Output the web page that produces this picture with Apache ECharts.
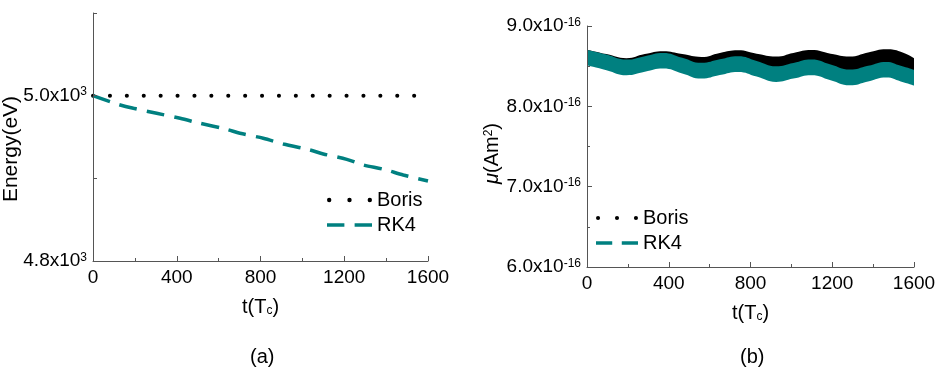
<!DOCTYPE html>
<html>
<head>
<meta charset="utf-8">
<script src="https://cdn.jsdelivr.net/npm/echarts@6/dist/echarts.min.js"></script>
<style>
  html, body { margin: 0; padding: 0; background: #fff; }
  #main { width: 936px; height: 367px; }
</style>
</head>
<body>
<div id="main"></div>
<script>
// (a) energy vs time
var borisEnergyTime = [0, 1550];
var borisEnergy = [5000, 5000];
var rk4EnergyTime = [0, 113, 193, 304, 416, 511, 638, 702, 813, 909, 1036, 1100, 1212, 1291, 1387, 1482, 1600];
var rk4Energy = [5000, 4990, 4984.7, 4978.7, 4972.6, 4966.6, 4959.3, 4954.5, 4948.5, 4941.6, 4934.3, 4929.5, 4923, 4916.2, 4911, 4904, 4896.8];
var energyTickValues = [4800, 5000];
var energyTickMantissa = ['4.8', '5.0'];

// (b) magnetic moment, in units of 1e-16 Am^2 (band envelopes)
var muTime = [0, 95, 193, 283, 372, 466, 560, 650, 739, 830, 925, 1010, 1098, 1192, 1285, 1375, 1465, 1535, 1600];
var rk4MuLower = [8.51, 8.45, 8.387, 8.43, 8.47, 8.41, 8.346, 8.39, 8.428, 8.37, 8.304, 8.345, 8.387, 8.325, 8.262, 8.31, 8.358, 8.31, 8.26];
var rk4MuUpper = [8.705, 8.645, 8.582, 8.625, 8.665, 8.605, 8.541, 8.585, 8.623, 8.565, 8.499, 8.54, 8.582, 8.52, 8.457, 8.505, 8.553, 8.505, 8.455];
var borisMuUpper = [8.705, 8.65, 8.60, 8.65, 8.685, 8.65, 8.615, 8.665, 8.698, 8.655, 8.62, 8.665, 8.70, 8.655, 8.62, 8.67, 8.71, 8.68, 8.60];
var muTickValues = [6, 7, 8, 9];
var muTickMantissa = ['6.0', '7.0', '8.0', '9.0'];

var timeTicks = [0, 400, 800, 1200, 1600];

var FONT = '"Liberation Sans", Arial, sans-serif';
var TEAL = '#008080';
var AXIS = '#555';

function pairs(xs, ys) {
  return xs.map(function (x, i) { return [x, ys[i]]; });
}

var dotLine = { color: '#000', width: 4, type: [0.1, 16.8], cap: 'round' };
var dashLine = { color: TEAL, width: 3.5, type: [18, 10] };

// legend glyphs: three round dots / two dashes
var dotIcon = 'path://M0,2a2,2 0 1,0 4,0a2,2 0 1,0 -4,0z' +
  'M18.5,2a2,2 0 1,0 4,0a2,2 0 1,0 -4,0z' +
  'M37,2a2,2 0 1,0 4,0a2,2 0 1,0 -4,0z';
var dashIcon = 'path://M0,0h17v3.6h-17z M27,0h17v3.6h-17z';

var supRich = {
  m: { fontSize: 19, fontFamily: FONT, color: '#000' },
  e: { fontSize: 12, fontFamily: FONT, color: '#000', verticalAlign: 'top', padding: [0, 0, 4, 0] }
};
var nameRich = {
  n: { fontSize: 20, fontFamily: FONT, color: '#000' },
  i: { fontSize: 20, fontFamily: FONT, color: '#000', fontStyle: 'italic' },
  s: { fontSize: 12, fontFamily: FONT, color: '#000', verticalAlign: 'bottom', padding: [6, 0, 0, 0] },
  e: { fontSize: 12, fontFamily: FONT, color: '#000', verticalAlign: 'top', padding: [0, 0, 6, 0] }
};

function timeAxis(gridIndex) {
  return {
    type: 'value', gridIndex: gridIndex, min: 0, max: 1600, interval: 400, z: 5,
    name: '{n|t(T}{s|c}{n|)}', nameLocation: 'middle', nameGap: 36,
    nameTextStyle: { rich: nameRich },
    axisLine: { show: true, lineStyle: { color: AXIS, width: 1 } },
    axisTick: { show: true, inside: true, length: 5, lineStyle: { color: AXIS } },
    minorTick: { show: true, splitNumber: 2, length: 3, lineStyle: { color: AXIS } },
    axisLabel: {
      margin: 7, fontSize: 19, fontFamily: FONT, color: '#000',
      formatter: function (v) { return timeTicks.indexOf(v) >= 0 ? String(v) : ''; }
    },
    splitLine: { show: false }
  };
}

var legendText = { fontSize: 20, fontFamily: FONT, color: '#000', lineHeight: 20 };

var chart = echarts.init(document.getElementById('main'), null, { renderer: 'canvas' });

var option = {
  animation: false,
  backgroundColor: '#fff',
  grid: [
    { left: 93, top: 13, width: 335, height: 248, outerBoundsMode: 'none' },
    { left: 587, top: 26, width: 327, height: 241, outerBoundsMode: 'none' }
  ],
  xAxis: [timeAxis(0), timeAxis(1)],
  yAxis: [
    {
      type: 'value', gridIndex: 0, min: 4800, max: 5100, interval: 100, z: 5,
      name: 'Energy(eV)', nameLocation: 'middle', nameGap: 71, nameMoveOverlap: false,
      nameTextStyle: { fontSize: 21, fontFamily: FONT, color: '#000', padding: [0, 24, 0, 0] },
      axisLine: { show: true, lineStyle: { color: AXIS, width: 1 } },
      axisTick: { show: true, inside: true, length: 4, lineStyle: { color: AXIS } },
      axisLabel: {
        margin: 6, rich: supRich,
        formatter: function (v) {
          var i = energyTickValues.indexOf(v);
          return i < 0 ? '' : '{m|' + energyTickMantissa[i] + 'x10}{e|3}';
        }
      },
      splitLine: { show: false }
    },
    {
      type: 'value', gridIndex: 1, min: 6, max: 9, interval: 1, z: 5,
      name: '{i|\u03bc}{n|(Am}{e|2}{n|)}', nameLocation: 'middle', nameGap: 72,
      nameTextStyle: { rich: nameRich, padding: [0, 14, 0, 0] },
      axisLine: { show: true, lineStyle: { color: AXIS, width: 1 } },
      axisTick: { show: true, inside: true, length: 5, lineStyle: { color: AXIS } },
      minorTick: { show: true, splitNumber: 2, length: 3, lineStyle: { color: AXIS } },
      axisLabel: {
        margin: 6, rich: supRich,
        formatter: function (v) {
          var i = muTickValues.indexOf(v);
          return i < 0 ? '' : '{m|' + muTickMantissa[i] + 'x10}{e|-16}';
        }
      },
      splitLine: { show: false }
    }
  ],
  legend: [
    {
      left: 327, top: 190, orient: 'vertical', padding: 0,
      itemWidth: 45, itemHeight: 14, itemGap: 5, symbolKeepAspect: true,
      itemStyle: { borderWidth: 0 },
      textStyle: legendText,
      data: [
        { name: 'Boris', icon: dotIcon },
        { name: 'RK4', icon: dashIcon }
      ]
    },
    {
      left: 596, top: 208, orient: 'vertical', padding: 0,
      itemWidth: 42, itemHeight: 14, itemGap: 5, symbolKeepAspect: true,
      itemStyle: { borderWidth: 0 },
      textStyle: legendText,
      data: [
        { name: 'Boris', icon: dotIcon },
        { name: 'RK4', icon: dashIcon }
      ]
    }
  ],
  series: [
    {
      name: 'Boris', type: 'line', xAxisIndex: 0, yAxisIndex: 0,
      data: pairs(borisEnergyTime, borisEnergy),
      symbol: 'none', color: '#000', lineStyle: dotLine
    },
    {
      name: 'RK4', type: 'line', xAxisIndex: 0, yAxisIndex: 0,
      data: pairs(rk4EnergyTime, rk4Energy), smooth: 0.3,
      symbol: 'none', color: TEAL, lineStyle: dashLine
    },
    // (b): upper envelopes filled down, lower RK4 envelope masks below the teal band
    {
      name: 'Boris', type: 'line', xAxisIndex: 1, yAxisIndex: 1,
      data: pairs(muTime, borisMuUpper), smooth: true,
      symbol: 'none', color: '#000', lineStyle: { width: 0 },
      areaStyle: { color: '#000', opacity: 1, origin: 'start' }
    },
    {
      name: 'RK4', type: 'line', xAxisIndex: 1, yAxisIndex: 1,
      data: pairs(muTime, rk4MuUpper), smooth: true,
      symbol: 'none', color: TEAL, lineStyle: { width: 0 },
      areaStyle: { color: TEAL, opacity: 1, origin: 'start' }
    },
    {
      name: 'RK4 lower', type: 'line', xAxisIndex: 1, yAxisIndex: 1,
      data: pairs(muTime, rk4MuLower), smooth: true,
      symbol: 'none', color: '#fff', lineStyle: { width: 0 },
      areaStyle: { color: '#fff', opacity: 1, origin: 'start' }
    }
  ],
  graphic: [
    { type: 'text', left: 250, top: 347, style: { text: '(a)', fontSize: 20, fontFamily: FONT, fill: '#000' } },
    { type: 'text', left: 740, top: 347, style: { text: '(b)', fontSize: 20, fontFamily: FONT, fill: '#000' } }
  ]
};

chart.setOption(option);
</script>
</body>
</html>
